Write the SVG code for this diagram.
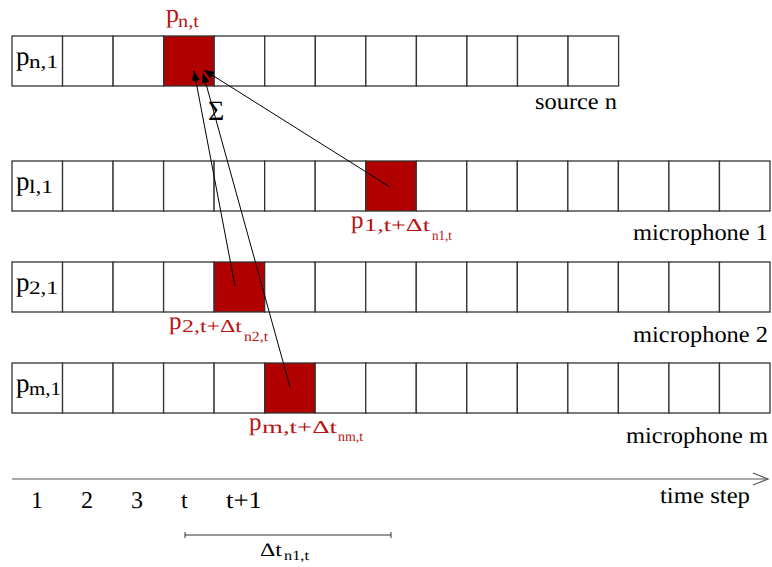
<svg xmlns="http://www.w3.org/2000/svg" width="772" height="567" viewBox="0 0 772 567" text-rendering="geometricPrecision">
<style>
.cell{fill:#fff;stroke:#333;stroke-width:1.3}
.hot{fill:#b00000;stroke:#333;stroke-width:1.3}
.t{fill:#000}
.r{fill:#b81414}
text{text-rendering:geometricPrecision}
.arr{stroke:#000;stroke-width:1;fill:none}
</style>
<defs>
<marker id="ah" viewBox="0 0 10 8" refX="10" refY="4" markerWidth="10" markerHeight="8" markerUnits="userSpaceOnUse" orient="auto">
<path d="M0,0 L10,4 L0,8 Z" fill="#000"/>
</marker>
</defs>
<rect width="772" height="567" fill="#fff"/>

<g id="source-n">
<rect class="cell" x="12" y="36" width="50.55" height="50"/>
<rect class="cell" x="62.55" y="36" width="50.55" height="50"/>
<rect class="cell" x="113.1" y="36" width="50.55" height="50"/>
<rect class="hot" x="163.65" y="36" width="50.55" height="50"/>
<rect class="cell" x="214.2" y="36" width="50.55" height="50"/>
<rect class="cell" x="264.75" y="36" width="50.55" height="50"/>
<rect class="cell" x="315.3" y="36" width="50.55" height="50"/>
<rect class="cell" x="365.85" y="36" width="50.55" height="50"/>
<rect class="cell" x="416.4" y="36" width="50.55" height="50"/>
<rect class="cell" x="466.95" y="36" width="50.55" height="50"/>
<rect class="cell" x="517.5" y="36" width="50.55" height="50"/>
<rect class="cell" x="568.05" y="36" width="50.55" height="50"/>
<text class="t" font-family="'Liberation Serif', serif" x="16" y="65" font-size="27">p</text>
<text class="t" font-family="'Liberation Serif', serif" x="29" y="68" font-size="19" textLength="29" lengthAdjust="spacingAndGlyphs">n,1</text>
<text class="r" font-family="'Liberation Serif', serif" x="166" y="22" font-size="26">p</text>
<text class="r" font-family="'Liberation Serif', serif" x="178" y="27" font-size="18" textLength="21" lengthAdjust="spacingAndGlyphs">n,t</text>
<text class="t" font-family="'Liberation Serif', serif" x="535" y="109" font-size="23" textLength="82" lengthAdjust="spacingAndGlyphs">source n</text>
<text class="t" font-family="'Liberation Serif', serif" x="208" y="120" font-size="28">Σ</text>
</g>

<g id="microphone-1">
<rect class="cell" x="12" y="161" width="50.53" height="50"/>
<rect class="cell" x="62.53" y="161" width="50.53" height="50"/>
<rect class="cell" x="113.06" y="161" width="50.53" height="50"/>
<rect class="cell" x="163.6" y="161" width="50.53" height="50"/>
<rect class="cell" x="214.13" y="161" width="50.53" height="50"/>
<rect class="cell" x="264.66" y="161" width="50.53" height="50"/>
<rect class="cell" x="315.2" y="161" width="50.53" height="50"/>
<rect class="hot" x="365.73" y="161" width="50.53" height="50"/>
<rect class="cell" x="416.26" y="161" width="50.53" height="50"/>
<rect class="cell" x="466.8" y="161" width="50.53" height="50"/>
<rect class="cell" x="517.33" y="161" width="50.53" height="50"/>
<rect class="cell" x="567.86" y="161" width="50.53" height="50"/>
<rect class="cell" x="618.4" y="161" width="50.53" height="50"/>
<rect class="cell" x="668.93" y="161" width="50.53" height="50"/>
<rect class="cell" x="719.46" y="161" width="50.53" height="50"/>
<text class="t" font-family="'Liberation Serif', serif" x="16" y="190" font-size="27">p</text>
<text class="t" font-family="'Liberation Serif', serif" x="29" y="193" font-size="19" textLength="24" lengthAdjust="spacingAndGlyphs">l,1</text>
<text class="r" font-family="'Liberation Serif', serif" x="351" y="228" font-size="25">p</text>
<text class="r" font-family="'Liberation Serif', serif" x="364" y="231" font-size="18" textLength="66" lengthAdjust="spacingAndGlyphs">1,t+Δt</text>
<text class="r" font-family="'Liberation Serif', serif" x="432" y="240" font-size="14" textLength="20" lengthAdjust="spacingAndGlyphs">n1,t</text>
<text class="t" font-family="'Liberation Serif', serif" x="633" y="240" font-size="23" textLength="135" lengthAdjust="spacingAndGlyphs">microphone 1</text>
</g>

<g id="microphone-2">
<rect class="cell" x="12" y="262" width="50.53" height="50"/>
<rect class="cell" x="62.53" y="262" width="50.53" height="50"/>
<rect class="cell" x="113.06" y="262" width="50.53" height="50"/>
<rect class="cell" x="163.6" y="262" width="50.53" height="50"/>
<rect class="hot" x="214.13" y="262" width="50.53" height="50"/>
<rect class="cell" x="264.66" y="262" width="50.53" height="50"/>
<rect class="cell" x="315.2" y="262" width="50.53" height="50"/>
<rect class="cell" x="365.73" y="262" width="50.53" height="50"/>
<rect class="cell" x="416.26" y="262" width="50.53" height="50"/>
<rect class="cell" x="466.8" y="262" width="50.53" height="50"/>
<rect class="cell" x="517.33" y="262" width="50.53" height="50"/>
<rect class="cell" x="567.86" y="262" width="50.53" height="50"/>
<rect class="cell" x="618.4" y="262" width="50.53" height="50"/>
<rect class="cell" x="668.93" y="262" width="50.53" height="50"/>
<rect class="cell" x="719.46" y="262" width="50.53" height="50"/>
<text class="t" font-family="'Liberation Serif', serif" x="16" y="291" font-size="27">p</text>
<text class="t" font-family="'Liberation Serif', serif" x="29" y="294" font-size="19" textLength="29" lengthAdjust="spacingAndGlyphs">2,1</text>
<text class="r" font-family="'Liberation Serif', serif" x="169" y="329" font-size="25">p</text>
<text class="r" font-family="'Liberation Serif', serif" x="182" y="332" font-size="18" textLength="60" lengthAdjust="spacingAndGlyphs">2,t+Δt</text>
<text class="r" font-family="'Liberation Serif', serif" x="244" y="341" font-size="14" textLength="24" lengthAdjust="spacingAndGlyphs">n2,t</text>
<text class="t" font-family="'Liberation Serif', serif" x="633" y="342" font-size="23" textLength="135" lengthAdjust="spacingAndGlyphs">microphone 2</text>
</g>

<g id="microphone-m">
<rect class="cell" x="12" y="363" width="50.53" height="50"/>
<rect class="cell" x="62.53" y="363" width="50.53" height="50"/>
<rect class="cell" x="113.06" y="363" width="50.53" height="50"/>
<rect class="cell" x="163.6" y="363" width="50.53" height="50"/>
<rect class="cell" x="214.13" y="363" width="50.53" height="50"/>
<rect class="hot" x="264.66" y="363" width="50.53" height="50"/>
<rect class="cell" x="315.2" y="363" width="50.53" height="50"/>
<rect class="cell" x="365.73" y="363" width="50.53" height="50"/>
<rect class="cell" x="416.26" y="363" width="50.53" height="50"/>
<rect class="cell" x="466.8" y="363" width="50.53" height="50"/>
<rect class="cell" x="517.33" y="363" width="50.53" height="50"/>
<rect class="cell" x="567.86" y="363" width="50.53" height="50"/>
<rect class="cell" x="618.4" y="363" width="50.53" height="50"/>
<rect class="cell" x="668.93" y="363" width="50.53" height="50"/>
<rect class="cell" x="719.46" y="363" width="50.53" height="50"/>
<text class="t" font-family="'Liberation Serif', serif" x="16" y="392" font-size="27">p</text>
<text class="t" font-family="'Liberation Serif', serif" x="29" y="395" font-size="19" textLength="32" lengthAdjust="spacingAndGlyphs">m,1</text>
<text class="r" font-family="'Liberation Serif', serif" x="249" y="430" font-size="25">p</text>
<text class="r" font-family="'Liberation Serif', serif" x="262" y="433" font-size="18" textLength="75" lengthAdjust="spacingAndGlyphs">m,t+Δt</text>
<text class="r" font-family="'Liberation Serif', serif" x="338" y="441" font-size="14" textLength="25" lengthAdjust="spacingAndGlyphs">nm,t</text>
<text class="t" font-family="'Liberation Serif', serif" x="626" y="443" font-size="23" textLength="142" lengthAdjust="spacingAndGlyphs">microphone m</text>
</g>

<g id="time-axis">
<line x1="12" y1="479" x2="768" y2="479" stroke="#555" stroke-width="1.2"/>
<polyline points="753,473 768,479 753,485" fill="none" stroke="#555" stroke-width="1.2"/>
<text class="t" font-family="'Liberation Serif', serif" x="660" y="503" font-size="23" textLength="90" lengthAdjust="spacingAndGlyphs">time step</text>
<text class="t" font-family="'Liberation Serif', serif" x="31" y="508" font-size="24">1</text>
<text class="t" font-family="'Liberation Serif', serif" x="81" y="508" font-size="24">2</text>
<text class="t" font-family="'Liberation Serif', serif" x="131" y="508" font-size="24">3</text>
<text class="t" font-family="'Liberation Serif', serif" x="181" y="508" font-size="24">t</text>
<text class="t" font-family="'Liberation Serif', serif" x="226" y="508" font-size="24" textLength="36" lengthAdjust="spacingAndGlyphs">t+1</text>
</g>

<g id="delta-bar">
<line x1="185" y1="535" x2="391" y2="535" stroke="#333" stroke-width="1"/>
<line x1="185" y1="532" x2="185" y2="538" stroke="#333" stroke-width="1"/>
<line x1="391" y1="532" x2="391" y2="538" stroke="#333" stroke-width="1"/>
<text class="t" font-family="'Liberation Serif', serif" x="260" y="556" font-size="19" textLength="22" lengthAdjust="spacingAndGlyphs">Δt</text>
<text class="t" font-family="'Liberation Serif', serif" x="284" y="560" font-size="14" textLength="25" lengthAdjust="spacingAndGlyphs">n1,t</text>
</g>

<g id="connectors">
<line class="arr" x1="390" y1="187" x2="204" y2="70" marker-end="url(#ah)"/>
<line class="arr" x1="235" y1="286" x2="194" y2="71" marker-end="url(#ah)"/>
<line class="arr" x1="290" y1="387" x2="203" y2="73" marker-end="url(#ah)"/>
</g>
</svg>
